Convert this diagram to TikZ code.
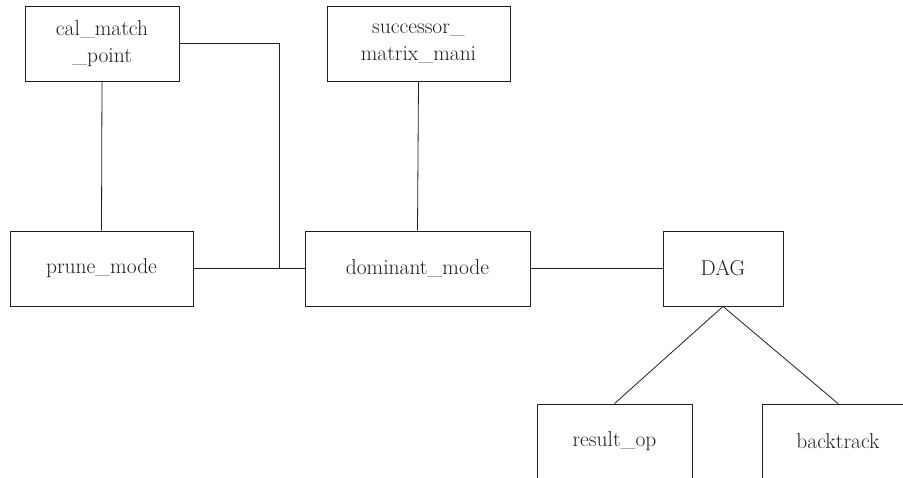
\documentclass[tikz,border=0pt]{standalone}
\usetikzlibrary{positioning}
\definecolor{InkGray}{HTML}{231F20}

\begin{document}
\begin{tikzpicture}[
    x=1pt, y=-1pt,
    box/.style={rectangle, draw=InkGray, line width=0.9pt, minimum height=75pt,
                align=center, inner sep=0pt, text=InkGray,
                font=\fontsize{21.5}{27}\selectfont},
    link/.style={draw=InkGray, line width=0.8pt}
]
  \clip (0,0) rectangle (903,478);
  \fill[white] (0,0) rectangle (903,478);

  \node[box, minimum width=154pt] (calmatch) at (102,43.5) {cal\_match\\\_point};
  \node[box, minimum width=183pt] (succmat) at (418.5,43.5) {successor\_\\matrix\_mani};
  \node[box, minimum width=183pt] (prune) at (101.5,268.5) {prune\_mode};
  \node[box, minimum width=225pt] (dominant) at (417.5,268.5) {dominant\_mode};
  \node[box, minimum width=120pt] (dag) at (723,268.5) {DAG};
  \node[box, minimum width=155pt] (resultop) at (614.5,441.5) {result\_op};
  \node[box, minimum width=152pt] (backtrack) at (838,441.5) {backtrack};

  \coordinate (junc) at (279,268.5);

  \draw[link] (calmatch.south) -- (prune.north);
  \draw[link] (calmatch.east) -| (junc);
  \draw[link] (prune.east) -- (dominant.west);
  \draw[link] (succmat.south) -- (dominant.north);
  \draw[link] (dominant.east) -- (dag.west);
  \draw[link] (dag.south) -- (resultop.north);
  \draw[link] (dag.south) -- (backtrack.north);
\end{tikzpicture}
\end{document}
